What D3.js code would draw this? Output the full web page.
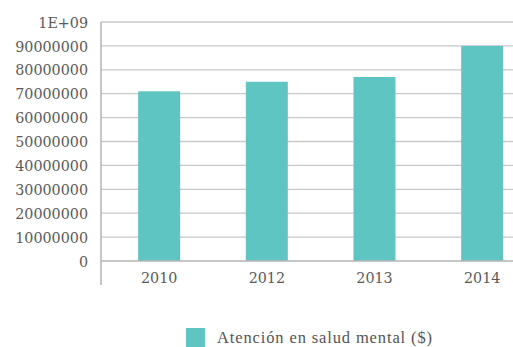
<!DOCTYPE html>
<html><head><meta charset="utf-8">
<script src="https://cdn.jsdelivr.net/npm/d3@7"></script>
<style>body{margin:0;background:#fff}svg{display:block}</style>
</head><body>
<script>
const categories = ["2010","2012","2013","2014"];
const values = [71000000, 75000000, 77000000, 90000000];
const tickValues = [0,10000000,20000000,30000000,40000000,50000000,60000000,70000000,80000000,90000000,100000000];
const tickLabels = ["0","10000000","20000000","30000000","40000000","50000000","60000000","70000000","80000000","90000000","1E+09"];
const seriesName = "Atención en salud mental ($)";

const W=513,H=347;
const svg=d3.select("body").append("svg").attr("width",W).attr("height",H);
const y=d3.scaleLinear().domain([0,100000000]).range([261,22]);
const x=d3.scaleBand().domain(categories).range([105.3,536]).paddingInner(0.61).paddingOuter(0.305);
const color="#5fc5c2";

svg.append("g").selectAll("line").data(tickValues.slice(1)).join("line")
  .attr("x1",101).attr("x2",W).attr("y1",d=>y(d)).attr("y2",d=>y(d))
  .attr("stroke","#c9c9c9").attr("stroke-width",1.3);

const ya=d3.axisLeft(y).tickValues(tickValues).tickFormat((d,i)=>tickLabels[i]).tickSize(0).tickPadding(13);
const yg=svg.append("g").attr("transform","translate(101,0)").call(ya);
yg.select(".domain").remove();
yg.selectAll("text").attr("font-family","DejaVu Serif").attr("font-size",14.3).attr("fill","#5a5a5a").attr("dy","0.36em");

svg.append("g").selectAll("rect").data(values).join("rect")
  .attr("x",(d,i)=>x(categories[i])).attr("width",x.bandwidth())
  .attr("y",d=>y(d)).attr("height",d=>y(0)-y(d)).attr("fill",color);

svg.append("line").attr("x1",101).attr("x2",W).attr("y1",y(0)).attr("y2",y(0)).attr("stroke","#b5b5b5").attr("stroke-width",1.5);
svg.append("line").attr("x1",101).attr("x2",101).attr("y1",22).attr("y2",285).attr("stroke","#b5b5b5").attr("stroke-width",1.5);

const xa=d3.axisBottom(x).tickSize(0).tickPadding(12);
const xg=svg.append("g").attr("transform",`translate(0,${y(0)})`).call(xa);
xg.select(".domain").remove();
xg.selectAll("text").attr("font-family","DejaVu Serif").attr("font-size",14.3).attr("fill","#5a5a5a");

svg.append("rect").attr("x",186).attr("y",328).attr("width",19).attr("height",19).attr("fill",color);
const lt=svg.append("text").attr("x",217).attr("y",343).attr("font-family","Liberation Serif").attr("font-size",15).attr("fill","#555").text(seriesName);
const target=216;
let len=lt.node().getComputedTextLength();
const fs=Math.min(16.5, 15*target/len);
lt.attr("font-size",fs);
len=lt.node().getComputedTextLength();
lt.attr("letter-spacing",((target-len)/seriesName.length).toFixed(2));
</script>
</body></html>
